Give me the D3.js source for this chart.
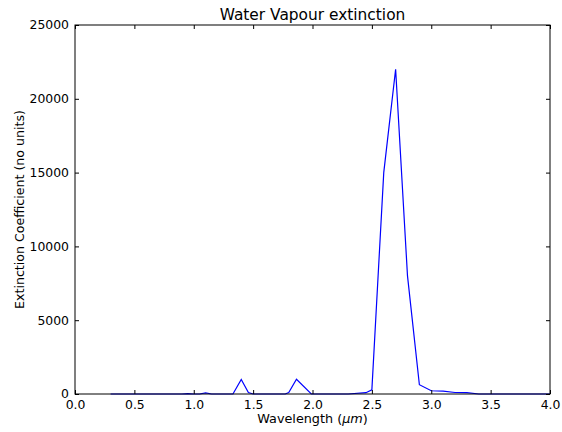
<!DOCTYPE html>
<html>
<head>
<meta charset="utf-8">
<script src="https://cdn.jsdelivr.net/npm/d3@7"></script>
<style>
  body { margin: 0; background: #fff; }
  svg text { font-family: "DejaVu Sans", sans-serif; fill: #000; }
</style>
</head>
<body>
<div id="chart"></div>
<script>
// wavelength (um) and extinction coefficient
var wavelength = [0.3, 0.5, 0.7, 0.9, 0.95, 1.0, 1.05, 1.1, 1.15, 1.2, 1.33, 1.4, 1.46, 1.5, 1.6, 1.77, 1.8, 1.865, 1.99, 2.1, 2.3, 2.45, 2.5, 2.6, 2.7, 2.8, 2.9, 3.0, 3.1, 3.2, 3.3, 3.4, 3.6, 4.0];
var extinction = [0, 0, 0, 0, 20, 0, 0, 80, 0, 0, 0, 980, 100, 0, 0, 0, 100, 1000, 0, 0, 0, 90, 280, 15000, 22000, 8000, 630, 220, 190, 100, 90, 0, 0, 0];
var xTicks = [0, 0.5, 1.0, 1.5, 2.0, 2.5, 3.0, 3.5, 4.0];
var yTicks = [0, 5000, 10000, 15000, 20000, 25000];

var width = 562, height = 432;
var margin = {top: 25, right: 12, bottom: 38, left: 75};

var svg = d3.select('#chart').append('svg')
    .attr('width', width).attr('height', height);

var x = d3.scaleLinear().domain([0, 4]).range([margin.left, width - margin.right]);
var y = d3.scaleLinear().domain([0, 25000]).range([height - margin.bottom, margin.top]);

var points = wavelength.map(function (w, i) { return [w, extinction[i]]; });

// the data line
svg.append('path')
    .datum(points)
    .attr('fill', 'none')
    .attr('stroke', '#0000ff')
    .attr('stroke-width', 1.2)
    .attr('d', d3.line().x(function (d) { return x(d[0]); }).y(function (d) { return y(d[1]); }));

// ticks point inwards, on all four sides
var tickLen = 4;
var fmtX = d3.format('.1f');

svg.append('g')
    .attr('transform', 'translate(0,' + y(0) + ')')
    .call(d3.axisBottom(x).tickValues(xTicks).tickFormat(fmtX).tickSizeInner(-tickLen).tickSizeOuter(0).tickPadding(6));
svg.append('g')
    .attr('transform', 'translate(0,' + y(25000) + ')')
    .call(d3.axisTop(x).tickValues(xTicks).tickFormat('').tickSizeInner(-tickLen).tickSizeOuter(0));
svg.append('g')
    .attr('transform', 'translate(' + x(0) + ',0)')
    .call(d3.axisLeft(y).tickValues(yTicks).tickFormat(d3.format('d')).tickSizeInner(-tickLen).tickSizeOuter(0).tickPadding(6));
svg.append('g')
    .attr('transform', 'translate(' + x(4) + ',0)')
    .call(d3.axisRight(y).tickValues(yTicks).tickFormat('').tickSizeInner(-tickLen).tickSizeOuter(0));

svg.selectAll('.domain').remove();
svg.selectAll('.tick line').attr('stroke', '#000').attr('stroke-width', 1);
svg.selectAll('.tick text').style('font-size', '12.4px').style('font-family', '"DejaVu Sans", sans-serif');

// frame
svg.append('rect')
    .attr('x', x(0)).attr('y', y(25000))
    .attr('width', x(4) - x(0)).attr('height', y(0) - y(25000))
    .attr('fill', 'none').attr('stroke', '#000').attr('stroke-width', 1);

// labels
svg.append('text')
    .attr('x', (x(0) + x(4)) / 2).attr('y', 20)
    .attr('text-anchor', 'middle')
    .style('font-size', '15.4px')
    .text('Water Vapour extinction');

var xl = svg.append('text')
    .attr('x', (x(0) + x(4)) / 2).attr('y', 423)
    .attr('text-anchor', 'middle')
    .style('font-size', '12.8px');
xl.append('tspan').text('Wavelength (');
xl.append('tspan').style('font-style', 'italic').text('μm');
xl.append('tspan').text(')');

svg.append('text')
    .attr('transform', 'translate(24,' + ((y(0) + y(25000)) / 2) + ') rotate(-90)')
    .attr('text-anchor', 'middle')
    .style('font-size', '12.6px')
    .text('Extinction Coefficient (no units)');
</script>
</body>
</html>
